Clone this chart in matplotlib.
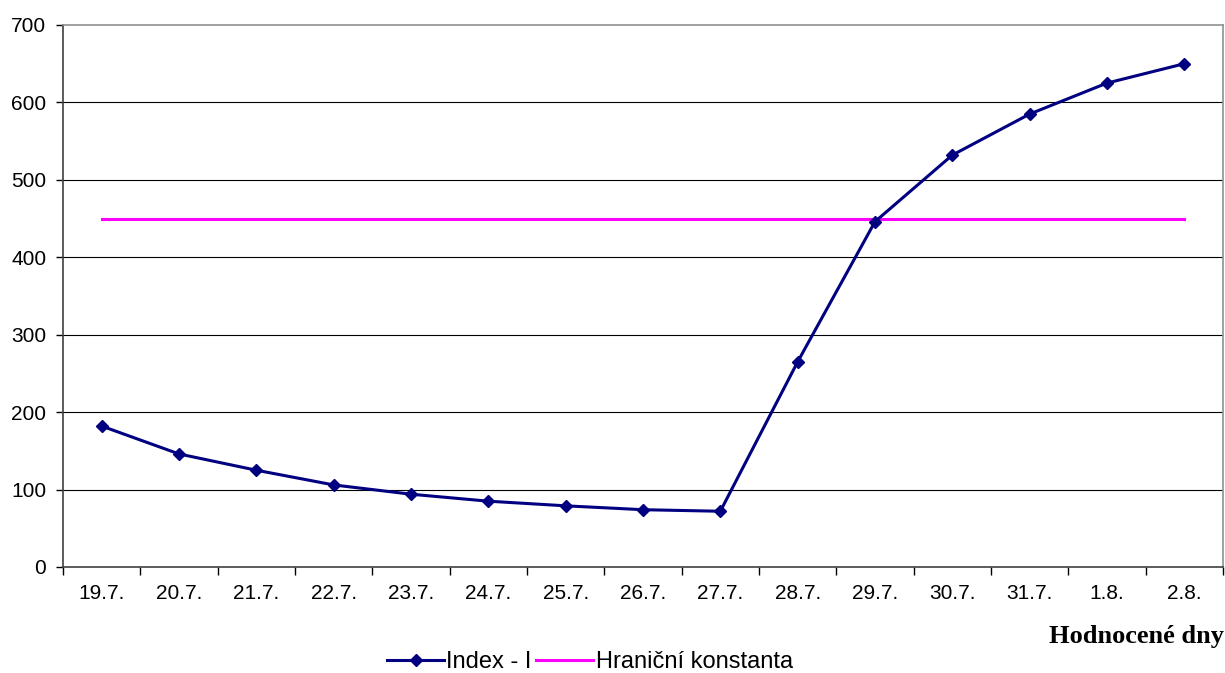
#!/usr/bin/env python3
"""Index - I over the evaluated days against the limit constant."""
import matplotlib
matplotlib.use("Agg")
import matplotlib.pyplot as plt
import numpy as np

days = ["19.7.", "20.7.", "21.7.", "22.7.", "23.7.", "24.7.", "25.7.", "26.7.",
        "27.7.", "28.7.", "29.7.", "30.7.", "31.7.", "1.8.", "2.8."]
index_i = [182, 146, 125, 106, 94, 85, 79, 74, 72, 265, 446, 532, 585, 625, 650]
limit_const = 450
y_ticks = [0, 100, 200, 300, 400, 500, 600, 700]

plt.rcParams["font.family"] = ["Liberation Sans", "DejaVu Sans"]

fig = plt.figure(figsize=(12.25, 6.73), dpi=100)
ax = fig.add_axes([63 / 1225, 106 / 673, 1160 / 1225, 542 / 673])

x = np.arange(len(days))
ax.plot(x, index_i, color="#000080", linewidth=2.2, marker="D", markersize=6,
        label="Index - I", zorder=3)
ax.plot(x, [limit_const] * len(days), color="#FF00FF", linewidth=2.2,
        label="Hraniční konstanta", zorder=2)

ax.set_xlim(-0.5, len(days) - 0.5)
ax.set_ylim(0, 700)
ax.set_yticks(y_ticks)
ax.tick_params(axis="y", labelsize=15, length=5, width=1, direction="out", pad=7)
ax.set_xticks(x)
ax.set_xticklabels(days)
ax.set_xticks(np.arange(len(days) + 1) - 0.5, minor=True)
ax.tick_params(axis="x", which="major", length=0, labelsize=15, pad=12)
ax.tick_params(axis="x", which="minor", length=6, width=1, direction="out")

for yv in y_ticks[1:-1]:
    ax.axhline(yv, color="black", linewidth=0.8, zorder=1)

ax.spines["left"].set_color("#404040")
ax.spines["bottom"].set_color("#404040")
ax.spines["top"].set_color("#909090")
ax.spines["right"].set_color("#909090")
for s in ax.spines.values():
    s.set_linewidth(1.2)

fig.text(1224 / 1225, 1 - 637 / 673, "Hodnocené dny", ha="right", va="center",
         fontsize=19, fontweight="bold", family=["Liberation Serif", "DejaVu Serif"])

fig.legend(loc="center", bbox_to_anchor=(590 / 1225, 1 - 662 / 673), ncol=2,
           frameon=False, fontsize=17, handlelength=2.4, handletextpad=0.1,
           columnspacing=0.2, borderpad=0)

fig.savefig("out.png", dpi=100)
